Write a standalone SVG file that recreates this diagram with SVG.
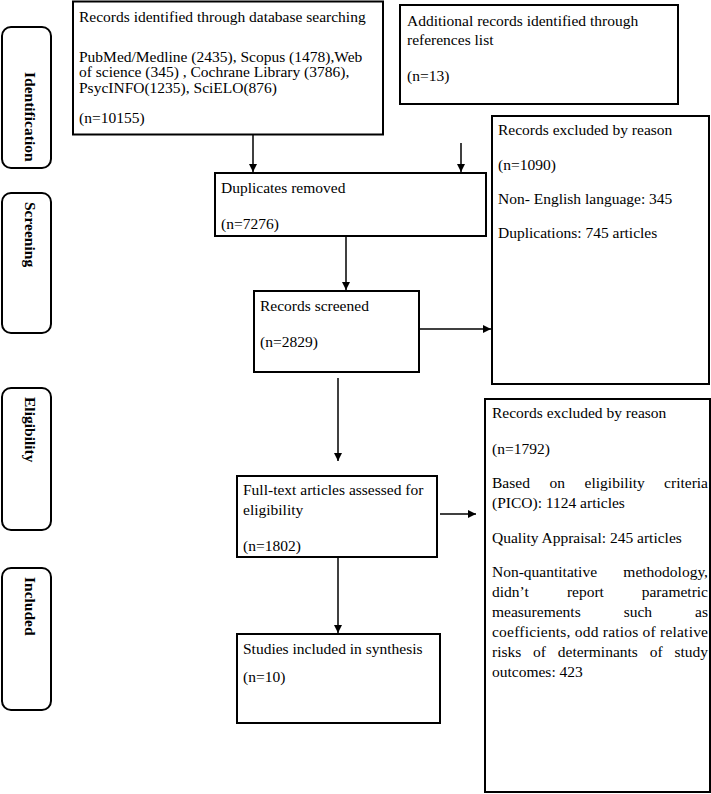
<svg xmlns="http://www.w3.org/2000/svg" width="711" height="794" viewBox="0 0 711 794">
<style>
.box{fill:#fff;stroke:#000;stroke-width:2}
.side{fill:#fff;stroke:#000;stroke-width:2}
text{font-family:"Liberation Serif","Times New Roman",serif;font-size:15.5px;fill:#000}
.lab{font-weight:bold}
.con{stroke:#000;stroke-width:1.5;fill:none}
</style>
<defs>
<marker id="ah" viewBox="0 0 10 10" refX="10" refY="5" markerWidth="8" markerHeight="8" markerUnits="userSpaceOnUse" orient="auto">
<path d="M0,0 L10,5 L0,10 Z" fill="#000"/>
</marker>
</defs>
<rect width="711" height="794" fill="#fff"/>

<g id="stage-identification">
<rect class="side" x="2" y="27" width="49" height="141" rx="9"/>
<text class="lab" transform="translate(24.5,72) rotate(90)">Identification</text>
</g>
<g id="stage-screening">
<rect class="side" x="2" y="193" width="49" height="140" rx="9"/>
<text class="lab" transform="translate(24.5,202) rotate(90)">Screening</text>
</g>
<g id="stage-eligibility">
<rect class="side" x="2" y="388" width="49" height="142" rx="9"/>
<text class="lab" transform="translate(24.5,397) rotate(90)">Eligibility</text>
</g>
<g id="stage-included">
<rect class="side" x="2" y="568" width="49" height="142" rx="9"/>
<text class="lab" transform="translate(24.5,577) rotate(90)">Included</text>
</g>

<g id="database">
<rect class="box" x="73" y="1.5" width="310" height="133"/>
<text x="79" y="21.7">Records identified through database searching</text>
<text x="79" y="61.5">PubMed/Medline (2435), Scopus (1478),Web</text>
<text x="79" y="77.3">of science (345) , Cochrane Library (3786),</text>
<text x="79" y="93">PsycINFO(1235), SciELO(876)</text>
<text x="79" y="122.7">(n=10155)</text>
</g>

<g id="additional">
<rect class="box" x="400" y="5" width="278" height="99"/>
<text x="407" y="26">Additional records identified through</text>
<text x="407" y="45">references list</text>
<text x="407" y="81">(n=13)</text>
</g>

<g id="duplicates">
<rect class="box" x="215" y="173" width="271" height="63"/>
<text x="221" y="193">Duplicates removed</text>
<text x="221" y="229">(n=7276)</text>
</g>

<g id="excluded1">
<rect class="box" x="492" y="116" width="217" height="268"/>
<text x="498" y="135">Records excluded by reason</text>
<text x="498" y="170">(n=1090)</text>
<text x="498" y="204">Non- English language: 345</text>
<text x="498" y="238">Duplications: 745 articles</text>
</g>

<g id="screened">
<rect class="box" x="254" y="291" width="165" height="81"/>
<text x="260" y="311">Records screened</text>
<text x="260" y="347">(n=2829)</text>
</g>

<g id="fulltext">
<rect class="box" x="237" y="476" width="200" height="81"/>
<text x="243" y="495">Full-text articles assessed for</text>
<text x="243" y="515">eligibility</text>
<text x="243" y="551">(n=1802)</text>
</g>

<g id="excluded2">
<rect class="box" x="485" y="399" width="225" height="393"/>
<text x="492" y="418">Records excluded by reason</text>
<text x="492" y="454">(n=1792)</text>
<text y="488"><tspan x="492">Based</tspan><tspan x="549.5">on</tspan><tspan x="584.6">eligibility</tspan><tspan x="708" text-anchor="end">criteria</tspan></text>
<text x="492" y="508">(PICO): 1124 articles</text>
<text x="492" y="543">Quality Appraisal: 245 articles</text>
<text y="577"><tspan x="492">Non-quantitative</tspan><tspan x="708" text-anchor="end">methodology,</tspan></text>
<text y="597"><tspan x="492">didn’t</tspan><tspan x="566.9">report</tspan><tspan x="708" text-anchor="end">parametric</tspan></text>
<text y="617"><tspan x="492">measurements</tspan><tspan x="623.7">such</tspan><tspan x="708" text-anchor="end">as</tspan></text>
<text x="492" y="637" textLength="216" lengthAdjust="spacing">coefficients, odd ratios of relative</text>
<text y="657"><tspan x="492">risks</tspan><tspan x="533.1">of</tspan><tspan x="557.8">determinants</tspan><tspan x="649.7">of</tspan><tspan x="708" text-anchor="end">study</tspan></text>
<text x="492" y="677">outcomes: 423</text>
</g>

<g id="studies">
<rect class="box" x="237" y="634" width="203" height="89"/>
<text x="243" y="654">Studies included in synthesis</text>
<text x="243" y="682">(n=10)</text>
</g>

<g id="connectors">
<line class="con" x1="253" y1="135" x2="253" y2="172" marker-end="url(#ah)"/>
<line class="con" x1="461" y1="143" x2="461" y2="172" marker-end="url(#ah)"/>
<line class="con" x1="346" y1="236" x2="346" y2="290" marker-end="url(#ah)"/>
<line class="con" x1="419" y1="329" x2="491" y2="329" marker-end="url(#ah)"/>
<line class="con" x1="338" y1="378" x2="338" y2="461" marker-end="url(#ah)"/>
<line class="con" x1="440" y1="514" x2="476" y2="514" marker-end="url(#ah)"/>
<line class="con" x1="338" y1="557" x2="338" y2="633" marker-end="url(#ah)"/>
</g>
</svg>
